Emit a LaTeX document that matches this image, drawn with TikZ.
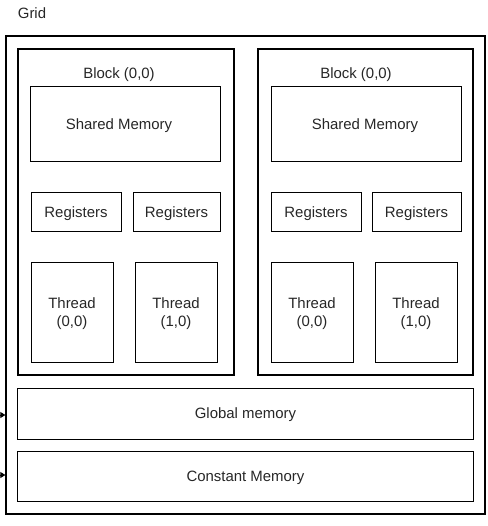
\documentclass[tikz,border=0pt]{standalone}
\usepackage{fontspec}
\setmainfont{Liberation Sans}
\usetikzlibrary{arrows.meta}
\begin{document}
\begin{tikzpicture}[x=1bp,y=-1bp,
  every node/.style={font=\fontsize{15}{18}\selectfont, text=black!85, align=center, inner sep=0pt},
  box/.style={draw=black, line width=1bp},
  blockbox/.style={draw=black, line width=1.6bp},
  gridbox/.style={draw=black, line width=1.3bp},
  lbl/.style={},
  inarrow/.style={-{Triangle[length=5bp,width=6bp]}, line width=1bp}]
\useasboundingbox (0,0) rectangle (488,526);
\node[gridbox, minimum width=479bp, minimum height=478bp] (grid) at (245.5,275) {};
\node[lbl] (gridlbl) at (32,13) {Grid};
% blocks
\node[blockbox, minimum width=216bp, minimum height=326bp] (blockL) at (126,212) {};
\node[blockbox, minimum width=215bp, minimum height=326bp] (blockR) at (365.5,212) {};
\node[lbl] (blockLlbl) at (119,75) {Block (0,0)};
\node[lbl] (blockRlbl) at (356,75) {Block (0,0)};
% shared memory
\node[box, minimum width=189bp, minimum height=75bp, text depth=0pt, anchor=center] (shL) at (125.5,124.5) {};
\node[box, minimum width=190bp, minimum height=75bp] (shR) at (366,124.5) {};
\node (shLt) at (119,126) {Shared Memory};
\node (shRt) at (365,126) {Shared Memory};
% registers
\node[box, minimum width=90bp, minimum height=38bp] (regL1) at (76,212) {};
\node[box, minimum width=87bp, minimum height=38bp] (regL2) at (176.5,212) {};
\node[box, minimum width=90bp, minimum height=38bp] (regR1) at (316,212) {};
\node[box, minimum width=89bp, minimum height=38bp] (regR2) at (416.5,212) {};
\node at ([yshift=-1.5bp]regL1.center) {Registers};
\node at ([yshift=-1.5bp]regL2.center) {Registers};
\node at ([yshift=-1.5bp]regR1.center) {Registers};
\node at ([yshift=-1.5bp]regR2.center) {Registers};
% threads
\node[box, minimum width=82bp, minimum height=100bp] (thL1) at (72,312) {};
\node[box, minimum width=82bp, minimum height=100bp] (thL2) at (176,312) {};
\node[box, minimum width=82bp, minimum height=100bp] (thR1) at (312,312.5) {};
\node[box, minimum width=82bp, minimum height=100bp] (thR2) at (416,312.5) {};
\node at ([yshift=-1.5bp]thL1.center) {Thread\\(0,0)};
\node at ([yshift=-1.5bp]thL2.center) {Thread\\(1,0)};
\node at ([yshift=-1.5bp]thR1.center) {Thread\\(0,0)};
\node at ([yshift=-1.5bp]thR2.center) {Thread\\(1,0)};
% memories
\node[box, minimum width=455bp, minimum height=51bp] (glob) at (245.5,413.5) {};
\node[box, minimum width=455bp, minimum height=50bp] (const) at (245.5,476) {};
\node at ([yshift=-1.5bp]glob.center) {Global memory};
\node at ([yshift=-1.5bp]const.center) {Constant Memory};
% incoming arrows
\coordinate (in1) at (0,415);
\coordinate (in2) at (0,475);
\draw[inarrow] (in1) -- (grid.west |- in1);
\draw[inarrow] (in2) -- (grid.west |- in2);
\end{tikzpicture}
\end{document}
